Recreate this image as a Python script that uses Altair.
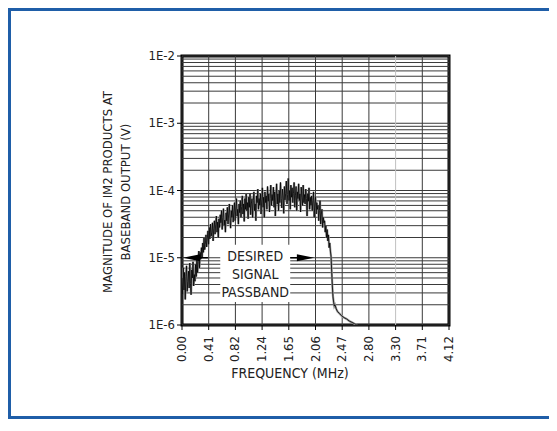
import altair as alt
import pandas as pd

FONT = "Liberation Sans Narrow, DejaVu Sans Condensed, Roboto, sans-serif"
INK = "#222222"

# ---- axis ticks / labels ----
x_tick_values = [0.0, 0.412, 0.824, 1.236, 1.648, 2.06, 2.472, 2.884, 3.296, 3.708, 4.12]
x_tick_labels = ["0.00", "0.41", "0.82", "1.24", "1.65", "2.06", "2.47", "2.80", "3.30", "3.71", "4.12"]
y_decades = [1e-6, 1e-5, 1e-4, 1e-3, 1e-2]
y_tick_labels = ["1E-6", "1E-5", "1E-4", "1E-3", "1E-2"]
y_minor_mult = [2, 3, 4, 5, 6, 7, 8, 9]
x_title = "FREQUENCY (MHz)"
y_title = ["MAGNITUDE OF IM2 PRODUCTS AT", "BASEBAND OUTPUT (V)"]

# ---- measured spectrum: samples every 0.01 MHz from 0.00, magnitude as log10(V) ----
trace_step = 0.01
trace_log = [
    -5.30, -5.55, -5.15, -5.48, -5.22, -5.62, -5.28, -5.12, -5.50, -5.35,
    -5.20, -5.45, -5.08, -5.38, -5.55, -5.18, -5.30, -5.06, -5.42, -5.25,
    -5.35, -5.10, -5.28, -4.98, -5.22, -5.05, -4.90, -5.15, -4.92, -5.02,
    -4.85, -5.00, -4.78, -4.92, -4.70, -4.88, -4.80, -4.66, -4.84, -4.72,
    -4.60, -4.80, -4.55, -4.72, -4.50, -4.68, -4.62, -4.48, -4.75, -4.56,
    -4.45, -4.65, -4.50, -4.38, -4.62, -4.47, -4.70, -4.42, -4.55, -4.36,
    -4.48, -4.30, -4.58, -4.40, -4.27, -4.52, -4.44, -4.62, -4.33, -4.45,
    -4.25, -4.50, -4.35, -4.20, -4.42, -4.56, -4.30, -4.40, -4.22, -4.47,
    -4.32, -4.18, -4.45, -4.26, -4.12, -4.38, -4.28, -4.50, -4.20, -4.33,
    -4.15, -4.40, -4.24, -4.08, -4.35, -4.20, -4.46, -4.12, -4.28, -4.05,
    -4.30, -4.18, -4.42, -4.10, -4.25, -4.04, -4.36, -4.20, -4.12, -4.40,
    -4.15, -4.02, -4.30, -4.20, -4.45, -4.08, -4.18, -3.98, -4.28, -4.12,
    -4.22, -4.05, -4.35, -4.14, -3.96, -4.25, -4.10, -4.40, -4.02, -4.18,
    -4.08, -4.28, -3.94, -4.16, -4.05, -4.32, -4.12, -3.92, -4.22, -4.06,
    -4.15, -3.95, -4.25, -4.02, -4.38, -4.10, -3.90, -4.20, -4.05, -4.30,
    -4.00, -4.18, -3.88, -4.12, -4.26, -3.98, -4.08, -4.34, -3.94, -4.14,
    -4.04, -3.86, -4.20, -4.06, -3.82, -4.15, -4.00, -4.28, -3.92, -4.10,
    -3.96, -4.18, -4.04, -3.88, -4.25, -4.08, -3.94, -4.30, -4.02, -4.12,
    -3.90, -4.15, -4.05, -4.32, -3.95, -4.10, -4.22, -3.92, -4.18, -4.06,
    -4.20, -3.98, -4.12, -4.38, -4.05, -4.16, -3.96, -4.28, -4.10, -4.22,
    -4.08, -4.30, -4.15, -4.02, -4.40, -4.20, -4.10, -4.35, -4.18, -4.28,
    -4.22, -4.45, -4.30, -4.15, -4.50, -4.35, -4.28, -4.55, -4.40, -4.48,
    -4.45, -4.62, -4.52, -4.70, -4.58, -4.75, -4.66, -4.85, -4.78, -4.90,
]
tail_freq = [2.30, 2.31, 2.32, 2.33, 2.34, 2.35, 2.36, 2.38, 2.40, 2.43, 2.46, 2.50, 2.54, 2.58, 2.62, 2.66, 2.70]
tail_log = [-4.98, -5.20, -5.42, -5.58, -5.66, -5.72, -5.70, -5.76, -5.80, -5.83, -5.86, -5.89, -5.91, -5.94, -5.96, -5.98, -6.00]

# ---- annotation ----
note_lines = ["DESIRED", "SIGNAL", "PASSBAND"]
note_x = 1.13
note_y = [1.03e-5, 5.6e-6, 3.0e-6]
note_box = {"x": 0.59, "x2": 1.67, "y": 2.2e-6, "y2": 1.56e-5}
arrow_y = 1e-5
left_arrow = {"tip": 0.147, "end": 0.40}
right_arrow = {"start": 1.67, "tip": 1.906}

# ---- tables ----
freqs = [round(i * trace_step, 2) for i in range(len(trace_log))] + tail_freq
logs = trace_log + tail_log
df = pd.DataFrame({"f": freqs, "v": [10 ** v for v in logs]})

ygrid = pd.DataFrame({"g": [m * d for d in y_decades[:-1] for m in y_minor_mult] + y_decades})
xticks = pd.DataFrame({"g": x_tick_values, "t": x_tick_labels})
yticks = pd.DataFrame({"g": y_decades, "t": y_tick_labels})
notes = pd.DataFrame({"x": [note_x] * 3, "y": note_y, "t": note_lines})
box = pd.DataFrame([note_box])
shafts = pd.DataFrame({"x": [left_arrow["tip"], right_arrow["start"]],
                       "x2": [left_arrow["end"], right_arrow["tip"]],
                       "y": [arrow_y, arrow_y]})
heads = pd.DataFrame({"x": [left_arrow["tip"], right_arrow["tip"]],
                      "y": [arrow_y, arrow_y], "d": ["L", "R"]})

xs = alt.Scale(domain=[0, 4.12], nice=False, zero=False)
ys = alt.Scale(type="log", domain=[1e-6, 1e-2], nice=False)
X = lambda f: alt.X(f, scale=xs, axis=None)
Y = lambda f: alt.Y(f, scale=ys, axis=None)

BLUE = "#1f5ea8"
frame = alt.Chart(box).mark_rect(fillOpacity=0, stroke=BLUE, strokeWidth=3).encode(
    x=alt.value(-172.5), x2=alt.value(430), y=alt.value(-46.5), y2=alt.value(361.5))

hgrid = alt.Chart(ygrid).mark_rule(color="#3a3a3a", strokeWidth=1).encode(y=Y("g:Q"))
vgrid = alt.Chart(xticks).mark_rule(strokeWidth=1).encode(
    x=X("g:Q"),
    color=alt.condition("datum.g == 3.296", alt.value("#c0c0c0"), alt.value("#3a3a3a")))

boxl = alt.Chart(box).mark_rect(color="white").encode(x=X("x:Q"), x2="x2:Q", y=Y("y:Q"), y2="y2:Q")

halo = alt.Chart(df).mark_line(color="#9a9a9a", strokeWidth=2.2, clip=True).encode(x=X("f:Q"), y=Y("v:Q"))
trace = alt.Chart(df).mark_line(color="black", strokeWidth=0.8, clip=True).encode(x=X("f:Q"), y=Y("v:Q"))

shaft = alt.Chart(shafts).mark_rule(color="black", strokeWidth=1.5).encode(x=X("x:Q"), x2="x2:Q", y=Y("y:Q"))
head = alt.Chart(heads).mark_point(filled=True, color="black", size=300, opacity=1).encode(
    x=X("x:Q"), y=Y("y:Q"),
    shape=alt.Shape("d:N", legend=None,
                    scale=alt.Scale(domain=["L", "R"],
                                    range=["M -1 0 L 1 -0.4 L 1 0.4 Z", "M 1 0 L -1 -0.4 L -1 0.4 Z"])))

text = alt.Chart(notes).mark_text(font=FONT, fontSize=14, color=INK, baseline="middle").encode(
    x=X("x:Q"), y=Y("y:Q"), text="t:N")

# axis ticks and labels
ytick_marks = alt.Chart(yticks).mark_rule(color="black", strokeWidth=1).encode(
    x=alt.value(-5), x2=alt.value(0), y=Y("g:Q"))
ytick_text = alt.Chart(yticks).mark_text(font=FONT, fontSize=13, color=INK, align="right",
                                         baseline="middle", dx=-7).encode(
    x=alt.value(0), y=Y("g:Q"), text="t:N")
xtick_marks = alt.Chart(xticks).mark_rule(color="black", strokeWidth=1).encode(
    x=X("g:Q"), y=alt.value(269), y2=alt.value(274))
xtick_text = alt.Chart(xticks).mark_text(font=FONT, fontSize=13, color=INK, align="right",
                                         baseline="middle", angle=270).encode(
    x=X("g:Q"), y=alt.value(280), text="t:N")
xtitle_l = alt.Chart(pd.DataFrame({"t": [x_title]})).mark_text(
    font=FONT, fontSize=14, color=INK, align="center", baseline="middle").encode(
    x=alt.value(108), y=alt.value(318), text="t:N")
ytitle_1 = alt.Chart(pd.DataFrame({"t": [y_title[0]]})).mark_text(
    font=FONT, fontSize=13, color=INK, align="center", baseline="middle", angle=270).encode(
    x=alt.value(-74), y=alt.value(136), text="t:N")
ytitle_2 = alt.Chart(pd.DataFrame({"t": [y_title[1]]})).mark_text(
    font=FONT, fontSize=13, color=INK, align="center", baseline="middle", angle=270).encode(
    x=alt.value(-56), y=alt.value(136), text="t:N")

chart = alt.layer(
    frame, hgrid, vgrid, boxl, halo, trace, shaft, head, text,
    ytick_marks, ytick_text, xtick_marks, xtick_text, xtitle_l, ytitle_1, ytitle_2
).properties(
    width=267, height=269,
    autosize=alt.AutoSizeParams(type="none"),
    padding={"left": 174, "top": 48, "right": 100, "bottom": 94},
    background="white",
).configure_view(stroke="black", strokeWidth=3)

chart.save("out.html", embed_options={"renderer": "svg", "actions": False})
